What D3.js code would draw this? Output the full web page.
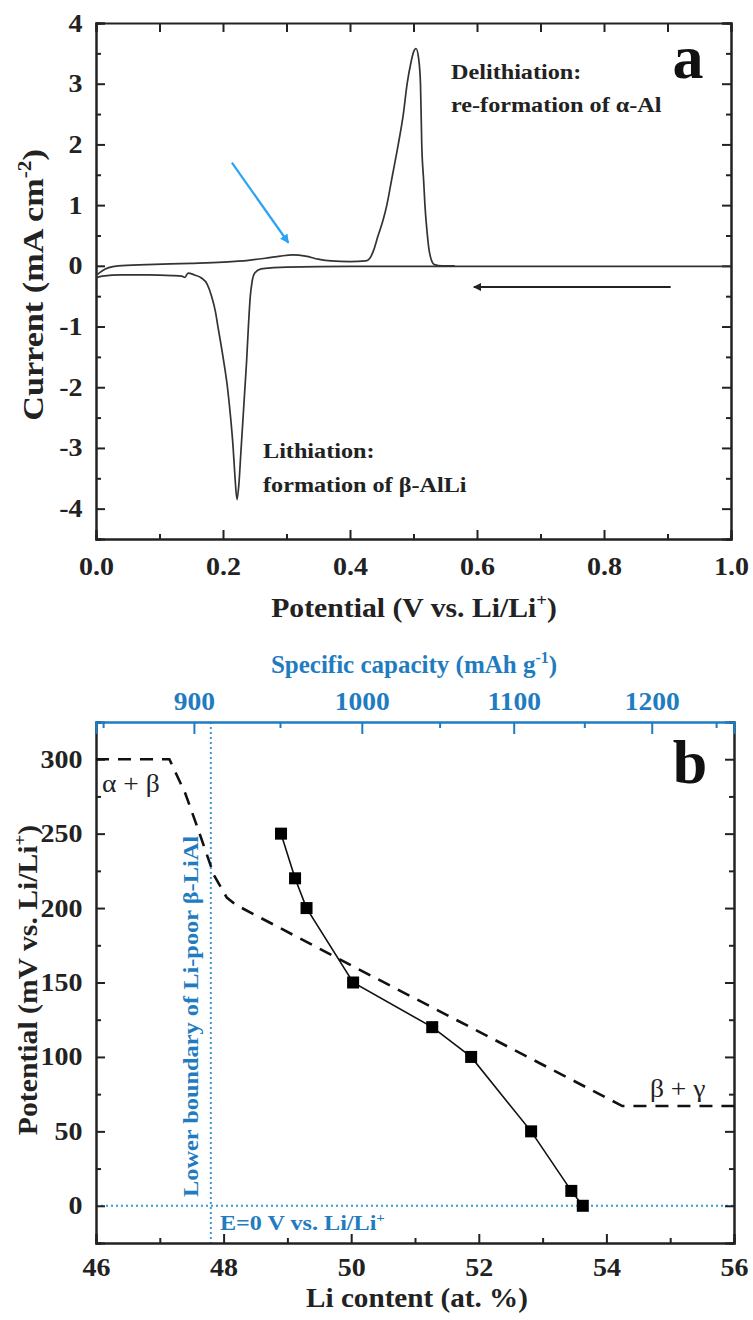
<!DOCTYPE html>
<html lang="en">
<head>
<meta charset="UTF-8">
<title>CV and Li-Al potential</title>
<script src="https://d3js.org/d3.v7.min.js"></script>
<style>
  body { margin: 0; background: #fff; }
  svg text { font-family: "Liberation Serif", "Times New Roman", serif; }
</style>
</head>
<body>
<svg id="fig" width="753" height="1320"></svg>
<script>
// ---- panel a: cyclic voltammogram (potential V, current mA cm-2) ----
const anodicV = [0.0, 0.01, 0.02, 0.035, 0.08, 0.15, 0.2, 0.24, 0.27, 0.29, 0.31, 0.33, 0.35, 0.37, 0.40, 0.425,
                 0.431, 0.437, 0.444, 0.452, 0.458, 0.467, 0.476, 0.484, 0.49, 0.496, 0.5, 0.504, 0.508, 0.511,
                 0.513, 0.516, 0.518, 0.521, 0.524, 0.528, 0.533, 0.545, 0.565];
const anodicI = [-0.16, -0.08, -0.03, 0.0, 0.02, 0.04, 0.06, 0.09, 0.13, 0.16, 0.18, 0.16, 0.11, 0.08, 0.07, 0.08,
                 0.12, 0.25, 0.49, 0.75, 1.0, 1.5, 2.0, 2.5, 3.0, 3.35, 3.52, 3.58, 3.42, 3.0,
                 2.0, 1.4, 1.0, 0.6, 0.3, 0.1, 0.02, 0.0, 0.0];
const cathodicV = [0.0, 0.01, 0.04, 0.08, 0.12, 0.135, 0.14, 0.145, 0.155, 0.166, 0.175, 0.182, 0.188, 0.192,
                   0.2, 0.207, 0.212, 0.216, 0.219, 0.222, 0.225, 0.228, 0.231, 0.234, 0.237, 0.24, 0.243,
                   0.246, 0.25, 0.26, 0.28, 0.3, 0.4, 0.6, 1.0];
const cathodicI = [-0.2, -0.17, -0.15, -0.15, -0.16, -0.17, -0.19, -0.12, -0.15, -0.2, -0.3, -0.5, -0.75, -1.0,
                   -1.5, -2.0, -2.5, -3.0, -3.5, -3.85, -3.6, -3.1, -2.6, -2.1, -1.6, -1.0, -0.5,
                   -0.25, -0.12, -0.05, -0.03, -0.02, -0.01, -0.01, -0.01];
const aXTicks = [0.0, 0.2, 0.4, 0.6, 0.8, 1.0];
const aXMinor = [0.1, 0.3, 0.5, 0.7, 0.9];
const aYTicks = [-4, -3, -2, -1, 0, 1, 2, 3, 4];
const aYMinor = [-4.5, -3.5, -2.5, -1.5, -0.5, 0.5, 1.5, 2.5, 3.5];

// ---- panel b: potential vs Li content ----
const liContent = [48.9, 49.12, 49.3, 50.03, 51.27, 51.88, 52.82, 53.45, 53.63];
const potentialMV = [250, 220, 200, 150, 120, 100, 50, 10, 0];
const boundaryLi = [46, 47.15, 47.4, 47.6, 47.85, 48.05, 48.2, 50, 54.25, 56];
const boundaryMV = [300, 300, 277, 253, 222, 207, 202, 161.5, 67, 67];
const bXTicks = [46, 48, 50, 52, 54, 56];
const bXMinor = [47, 49, 51, 53, 55];
const bYTicks = [0, 50, 100, 150, 200, 250, 300];
const bYMinor = [-25, 25, 75, 125, 175, 225, 275, 325];
const capTicks = [900, 1000, 1100, 1200];
const capMinor = [850, 950, 1050, 1150, 1250];
const poorBoundaryLi = 47.8;

const blue = "#1f7cc0";
const dotBlue = "#3a9ad8";
const arrowBlue = "#2aa3f5";
const ink = "#222";

// Li/Al ratio -> mAh per g Al (F / 3.6 / M_Al)
const capPerLi = 26801 / 26.98;
const capToLi = c => 100 * (c / capPerLi) / (1 + c / capPerLi);

const svg = d3.select("#fig");

function styleAxis(g, color, size, sx) {
  g.attr("font-family", null);
  g.select(".domain").attr("stroke", color).attr("stroke-width", 2);
  g.selectAll(".tick line").attr("stroke", color).attr("stroke-width", 2);
  g.selectAll(".tick text")
    .attr("fill", color)
    .attr("transform", `scale(${sx || 1.12},1)`)
    .style("font-size", (size || 25) + "px")
    .style("font-weight", "bold");
  return g;
}

// text with a slight horizontal stretch (the source font runs wide)
function sText(p, x, y, size, sx, o) {
  o = o || {};
  return p.append("text")
    .attr("transform", `translate(${x},${y})${o.rotate ? " rotate(-90)" : ""} scale(${sx},1)`)
    .attr("text-anchor", o.anchor || "start")
    .style("font-size", size + "px")
    .style("font-weight", o.normal ? "normal" : "bold")
    .attr("fill", o.color || ink);
}
function sup(t, base, s, size, after) {
  t.append("tspan").text(base);
  t.append("tspan").attr("dy", -size * 0.4).style("font-size", Math.round(size * 0.62) + "px").text(s);
  if (after) t.append("tspan").attr("dy", size * 0.4).text(after);
}

function frameAxes(p, x, y, opts) {
  const [x0, x1] = x.range();
  const [y0] = y.range();
  styleAxis(p.append("g").attr("transform", `translate(0,${y0})`)
    .call(d3.axisBottom(x).tickValues(opts.xTicks).tickSize(-9).tickPadding(opts.xPad).tickFormat(opts.xFmt)), ink);
  styleAxis(p.append("g").attr("transform", `translate(0,${y0})`)
    .call(d3.axisBottom(x).tickValues(opts.xMinor).tickSize(-5).tickFormat("")), ink);
  styleAxis(p.append("g").attr("transform", `translate(${x0},0)`)
    .call(d3.axisLeft(y).tickValues(opts.yTicks).tickSize(-9).tickPadding(12).tickFormat(opts.yFmt)), ink);
  styleAxis(p.append("g").attr("transform", `translate(${x0},0)`)
    .call(d3.axisLeft(y).tickValues(opts.yMinor).tickSize(-5).tickFormat("")), ink);
  styleAxis(p.append("g").attr("transform", `translate(${x1},0)`)
    .call(d3.axisRight(y).tickValues(opts.yTicks).tickSize(-9).tickFormat("")), ink);
  styleAxis(p.append("g").attr("transform", `translate(${x1},0)`)
    .call(d3.axisRight(y).tickValues(opts.yMinor).tickSize(-5).tickFormat("")), ink);
}

// ================= panel a =================
const xA = d3.scaleLinear().domain([0, 1]).range([96, 731]);
const yA = d3.scaleLinear().domain([-4.5, 4]).range([539, 23]);
const pa = svg.append("g");

frameAxes(pa, xA, yA, {
  xTicks: aXTicks, xMinor: aXMinor, yTicks: aYTicks, yMinor: aYMinor, xPad: 18,
  xFmt: d3.format(".1f"), yFmt: d => String(d)
});
styleAxis(pa.append("g").attr("transform", `translate(0,${yA(4)})`)
  .call(d3.axisTop(xA).tickValues(aXTicks.concat(aXMinor)).tickSize(-9).tickFormat("")), ink);

const lineA = d3.line().x(d => xA(d[0])).y(d => yA(d[1])).curve(d3.curveMonotoneX);
pa.append("path")
  .attr("d", lineA(cathodicV.map((v, i) => [v, cathodicI[i]])))
  .attr("fill", "none").attr("stroke", "#333").attr("stroke-width", 1.7);
pa.append("path")
  .attr("d", lineA(anodicV.map((v, i) => [v, anodicI[i]])))
  .attr("fill", "none").attr("stroke", "#333").attr("stroke-width", 1.7);

// arrows
const defs = svg.append("defs");
defs.append("marker").attr("id", "headBlack").attr("viewBox", "0 0 10 10")
  .attr("refX", 9).attr("refY", 5).attr("markerWidth", 16).attr("markerHeight", 8)
  .attr("markerUnits", "userSpaceOnUse").attr("orient", "auto")
  .append("path").attr("d", "M0,0 L10,5 L0,10 z").attr("fill", ink);
defs.append("marker").attr("id", "headBlue").attr("viewBox", "0 0 10 10")
  .attr("refX", 9).attr("refY", 5).attr("markerWidth", 12).attr("markerHeight", 9)
  .attr("markerUnits", "userSpaceOnUse").attr("orient", "auto")
  .append("path").attr("d", "M0,0 L10,5 L0,10 z").attr("fill", arrowBlue);

pa.append("line")
  .attr("x1", xA(0.905)).attr("y1", yA(-0.35)).attr("x2", xA(0.595)).attr("y2", yA(-0.35))
  .attr("stroke", ink).attr("stroke-width", 2).attr("marker-end", "url(#headBlack)");
pa.append("line")
  .attr("x1", xA(0.214)).attr("y1", yA(1.7)).attr("x2", xA(0.303)).attr("y2", yA(0.38))
  .attr("stroke", arrowBlue).attr("stroke-width", 2.2).attr("marker-end", "url(#headBlue)");

// annotations
function block(p, x, y, lines, dy) {
  const t = sText(p, x, y, 22, 1.1);
  lines.forEach((s, i) => t.append("tspan").attr("x", 0).attr("dy", i ? dy : 0).text(s));
}
block(pa, 451, 79, ["Delithiation:", "re-formation of \u03b1-Al"], 33);
block(pa, 263, 458, ["Lithiation:", "formation of \u03b2-AlLi"], 34);
pa.append("text").attr("x", 688).attr("y", 78).attr("text-anchor", "middle")
  .style("font-size", "62px").style("font-weight", "bold").attr("fill", "#111").text("a");

sup(sText(pa, 414, 617, 27, 1.1, { anchor: "middle" }), "Potential (V vs. Li/Li", "+", 27, ")");
sup(sText(pa, 43, 285, 29, 1.18, { anchor: "middle", rotate: true }), "Current (mA cm", "-2", 29, ")");

// ================= panel b =================
const xB = d3.scaleLinear().domain([46, 56]).range([96, 734]);
const yB = d3.scaleLinear().domain([-25, 325]).range([1243, 722]);
const pb = svg.append("g");

pb.append("line").attr("x1", xB(46)).attr("x2", xB(56)).attr("y1", yB(0)).attr("y2", yB(0))
  .attr("stroke", dotBlue).attr("stroke-width", 2).attr("stroke-dasharray", "2,3");
pb.append("line").attr("x1", xB(poorBoundaryLi)).attr("x2", xB(poorBoundaryLi)).attr("y1", yB(325)).attr("y2", yB(-25))
  .attr("stroke", dotBlue).attr("stroke-width", 2).attr("stroke-dasharray", "2,3");

frameAxes(pb, xB, yB, {
  xTicks: bXTicks, xMinor: bXMinor, yTicks: bYTicks, yMinor: bYMinor, xPad: 15,
  xFmt: d => String(d), yFmt: d => String(d)
});

// top capacity axis (blue), ticks placed through the Li-content scale
styleAxis(pb.append("g").attr("transform", `translate(0,${yB(325)})`)
  .call(d3.axisTop(xB).tickValues(capTicks.map(capToLi)).tickSize(-12).tickPadding(12)
    .tickFormat((d, i) => String(capTicks[i]))), blue, 25, 1.1);
styleAxis(pb.append("g").attr("transform", `translate(0,${yB(325)})`)
  .call(d3.axisTop(xB).tickValues(capMinor.map(capToLi)).tickSize(-6).tickFormat("")), blue);

const lineB = d3.line().x(d => xB(d[0])).y(d => yB(d[1]));
pb.append("path")
  .attr("d", lineB(boundaryLi.map((v, i) => [v, boundaryMV[i]])))
  .attr("fill", "none").attr("stroke", "#111").attr("stroke-width", 2.6).attr("stroke-dasharray", "13,9");

pb.append("path")
  .attr("d", lineB(liContent.map((v, i) => [v, potentialMV[i]])))
  .attr("fill", "none").attr("stroke", "#111").attr("stroke-width", 1.6);
pb.selectAll("rect.pt").data(liContent).enter().append("rect").attr("class", "pt")
  .attr("x", d => xB(d) - 6).attr("y", (d, i) => yB(potentialMV[i]) - 6)
  .attr("width", 12).attr("height", 12).attr("fill", "#000");

sText(pb, 102, 792, 25, 1.1, { normal: true }).text("\u03b1 + \u03b2");
sText(pb, 650, 1097, 25, 1.1, { normal: true }).text("\u03b2 + \u03b3");
pb.append("text").attr("x", 690).attr("y", 783).attr("text-anchor", "middle")
  .style("font-size", "62px").style("font-weight", "bold").attr("fill", "#111").text("b");

sText(pb, 198, 1197, 21, 1.16, { rotate: true, color: blue }).text("Lower boundary of Li-poor \u03b2-LiAl");
sup(sText(pb, 220, 1230, 21, 1.15, { color: blue }), "E=0 V vs. Li/Li", "+", 21);
sup(sText(pb, 414, 673, 25, 1.0, { anchor: "middle", color: blue }), "Specific capacity (mAh g", "-1", 25, ")");

sText(pb, 417, 1307, 27, 1.08, { anchor: "middle" }).text("Li content (at. %)");
sup(sText(pb, 37, 980, 27, 1.1, { anchor: "middle", rotate: true }), "Potential (mV vs. Li/Li", "+", 27, ")");
</script>
</body>
</html>
